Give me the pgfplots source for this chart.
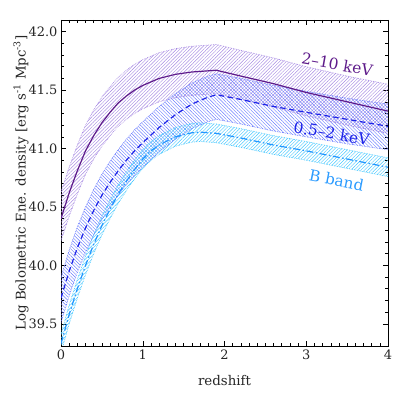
\documentclass[border=0pt]{standalone}
\usepackage{fontspec}
\setmainfont{DejaVu Serif}
\usepackage{pgfplots}
\pgfplotsset{compat=1.18}
\usepackage{pgfplotstable}
\usepgfplotslibrary{fillbetween}
\usetikzlibrary{patterns.meta}
\definecolor{pdark}{HTML}{5E1B8A}
\definecolor{plight}{HTML}{A588E2}
\definecolor{bdark}{HTML}{1E24E8}
\definecolor{blight}{HTML}{6A7CFF}
\definecolor{cdark}{HTML}{2196FF}
\definecolor{clight}{HTML}{45C8FF}
\definecolor{ctext}{HTML}{2B9BFF}

\pgfplotstableread{
z c u l
0.0 40.40 40.63 40.21
0.1 40.62 40.84 40.42
0.2 40.81 41.03 40.61
0.3 40.98 41.20 40.78
0.4 41.11 41.33 40.91
0.5 41.22 41.44 41.02
0.6 41.31 41.53 41.11
0.7 41.39 41.61 41.19
0.8 41.45 41.67 41.25
0.9 41.50 41.72 41.30
1.0 41.54 41.76 41.34
1.2 41.60 41.82 41.40
1.4 41.635 41.855 41.435
1.6 41.655 41.875 41.455
1.8 41.665 41.885 41.465
1.9 41.67 41.89 41.47
2.2 41.62 41.84 41.42
2.6 41.555 41.775 41.355
3.0 41.48 41.70 41.28
3.5 41.40 41.62 41.20
4.0 41.32 41.55 41.13
}\hard

\pgfplotstableread{
z c u l
0.0 39.72 39.90 39.51
0.1 39.95 40.13 39.74
0.2 40.15 40.33 39.94
0.3 40.32 40.50 40.11
0.4 40.47 40.65 40.26
0.5 40.60 40.78 40.39
0.6 40.71 40.89 40.50
0.7 40.81 40.99 40.60
0.8 40.90 41.08 40.69
0.9 40.98 41.16 40.77
1.0 41.05 41.23 40.84
1.2 41.18 41.36 40.97
1.4 41.29 41.47 41.08
1.6 41.38 41.56 41.17
1.8 41.44 41.62 41.23
1.9 41.46 41.64 41.25
2.2 41.42 41.60 41.21
2.6 41.36 41.54 41.15
3.0 41.31 41.49 41.10
3.5 41.25 41.43 41.04
4.0 41.19 41.38 40.99
}\soft

\pgfplotstableread{
z c u l
0.0 39.33 39.41 39.25
0.1 39.58 39.66 39.50
0.2 39.80 39.88 39.72
0.3 40.00 40.08 39.92
0.4 40.18 40.26 40.10
0.5 40.34 40.42 40.26
0.6 40.48 40.56 40.40
0.7 40.61 40.69 40.53
0.8 40.72 40.80 40.64
0.9 40.82 40.90 40.74
1.0 40.91 40.99 40.83
1.1 40.98 41.06 40.90
1.2 41.03 41.11 40.95
1.4 41.10 41.18 41.02
1.6 41.135 41.215 41.055
1.7 41.14 41.22 41.06
1.9 41.13 41.21 41.05
2.2 41.09 41.17 41.01
2.6 41.03 41.11 40.95
3.0 40.98 41.06 40.90
3.5 40.91 40.99 40.83
4.0 40.84 40.92 40.76
}\bband

\begin{document}
\begin{tikzpicture}
\begin{axis}[
  scale only axis, width=327bp, height=326bp,
  xmin=0, xmax=4, ymin=39.31, ymax=42.10,
  xtick={0,1,2,3,4},
  ytick={39.5,40.0,40.5,41.0,41.5,42.0},
  yticklabel={\pgfmathprintnumber[fixed,fixed zerofill,precision=1]{\tick}},
  minor x tick num=9, minor y tick num=4,
  tick align=inside, major tick length=5bp, minor tick length=3bp,
  every tick/.style={black, line width=0.5pt},
  axis line style={line width=0.6pt},
  /pgf/number format/assume math mode=true,
  ticklabel style={font=\fontsize{13}{15}\selectfont, text=black!85},
  label style={font=\fontsize{13.4}{15}\selectfont, text=black!85},
  xlabel={redshift},
  ylabel={Log Bolometric Ene. density [erg s\textsuperscript{-1} Mpc\textsuperscript{-3}]},
  ylabel style={at={(axis description cs:-0.122,0.5)}, anchor=center},
  xlabel style={at={(axis description cs:0.5,-0.107)}, anchor=center},
]
% boundaries (named paths)
\addplot[name path=hu, plight, densely dotted, line width=0.7pt] table[x=z,y=u]{\hard};
\addplot[name path=hl, plight, densely dotted, line width=0.7pt] table[x=z,y=l]{\hard};
\addplot[name path=su, blight, densely dotted, line width=0.7pt] table[x=z,y=u]{\soft};
\addplot[name path=sl, blight, densely dotted, line width=0.7pt] table[x=z,y=l]{\soft};
\addplot[name path=bu, clight, densely dotted, line width=0.7pt] table[x=z,y=u]{\bband};
\addplot[name path=bl, clight, densely dotted, line width=0.7pt] table[x=z,y=l]{\bband};
% hatched bands
\addplot[draw=none, pattern={Lines[angle=45,distance=2.4bp,line width=0.42bp]}, pattern color=plight] fill between[of=hu and hl];
\addplot[draw=none, pattern={Lines[angle=-45,distance=2.4bp,line width=0.42bp]}, pattern color=blight] fill between[of=su and sl];
\addplot[draw=none, pattern={Lines[angle=45,distance=2.4bp,line width=0.42bp]}, pattern color=clight] fill between[of=bu and bl];
% central curves
\addplot[pdark, line width=1.2pt] table[x=z,y=c]{\hard};
\addplot[bdark, line width=1.2pt, dash pattern=on 5.5pt off 3.5pt] table[x=z,y=c]{\soft};
\addplot[cdark, line width=1.2pt, dash pattern=on 7pt off 2.5pt on 1.5pt off 2.5pt] table[x=z,y=c]{\bband};
% labels
\node[rotate=-10, text=pdark, font=\fontsize{15.5}{17}\selectfont] at (axis cs:3.38,41.72) {2--10 keV};
\node[rotate=-10, text=bdark, font=\fontsize{15.5}{17}\selectfont] at (axis cs:3.31,41.13) {0.5--2 keV};
\node[rotate=-11, text=ctext, font=\fontsize{15.5}{17}\selectfont] at (axis cs:3.37,40.73) {B band};
\end{axis}
\pgfresetboundingbox
\path[use as bounding box] (-61bp,-63bp) rectangle (348bp,346bp);
\end{tikzpicture}
\end{document}
